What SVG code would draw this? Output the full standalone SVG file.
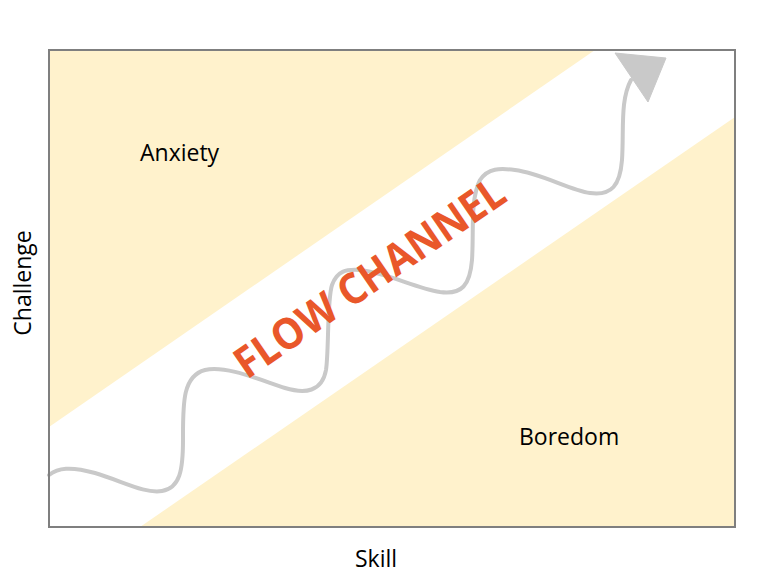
<svg xmlns="http://www.w3.org/2000/svg" width="780" height="573" viewBox="0 0 780 573">
  <style>
    .zone { fill: #FFF2CC; stroke: none; }
    .frame { fill: none; stroke: #7F7F7F; stroke-width: 2; }
    .label { font-family: "Open Sans", "Liberation Sans", sans-serif; font-size: 23px; fill: #000000; }
    .flow { font-family: "Open Sans", "Liberation Sans", sans-serif; font-size: 43px; font-weight: bold; fill: #E9572A; }
    .wave { fill: none; stroke: #C9C9C9; stroke-width: 4; stroke-linecap: round; stroke-linejoin: round; }
    .head { fill: #C9C9C9; stroke: #C9C9C9; stroke-width: 1; stroke-linejoin: round; }
  </style>
  <rect x="0" y="0" width="780" height="573" fill="#FFFFFF"/>
  <g id="anxiety-zone">
    <polygon class="zone" points="49,50 595,50 49,427"/>
  </g>
  <g id="boredom-zone">
    <polygon class="zone" points="735,117 735,527 140,527"/>
  </g>
  <g id="connectors">
    <path class="wave" d="M49,475 C58,468 70,466 95,473 C122,481 145,494 162,491 C180,488 183,470 183,440 C183,405 182,376 205,370 C226,365 260,380 285,388 C305,394 322,392 326,370 C329,350 327,300 332,285 C337,271 346,269 360,270 C385,272 415,288 440,292 C462,295 470,285 472,260 C474,230 470,200 480,180 C488,168 500,168 515,170 C540,173 570,190 590,193 C612,196 620,185 622,160 C624,130 620,100 631,80"/>
    <polygon class="head" points="615,53 666,58 648,102"/>
  </g>
  <g id="frame">
    <rect class="frame" x="49" y="50" width="686" height="477"/>
  </g>
  <g id="flow-channel">
    <text class="flow" x="378" y="290" text-anchor="middle" textLength="318" lengthAdjust="spacingAndGlyphs" transform="rotate(-34.5 378 290)">FLOW CHANNEL</text>
  </g>
  <g id="anxiety">
    <text class="label" x="140" y="161">Anxiety</text>
  </g>
  <g id="boredom">
    <text class="label" x="519" y="445">Boredom</text>
  </g>
  <g id="skill">
    <text class="label" x="355" y="567">Skill</text>
  </g>
  <g id="challenge">
    <text class="label" x="0" y="0" text-anchor="middle" transform="translate(31 283) rotate(-90)">Challenge</text>
  </g>
</svg>
